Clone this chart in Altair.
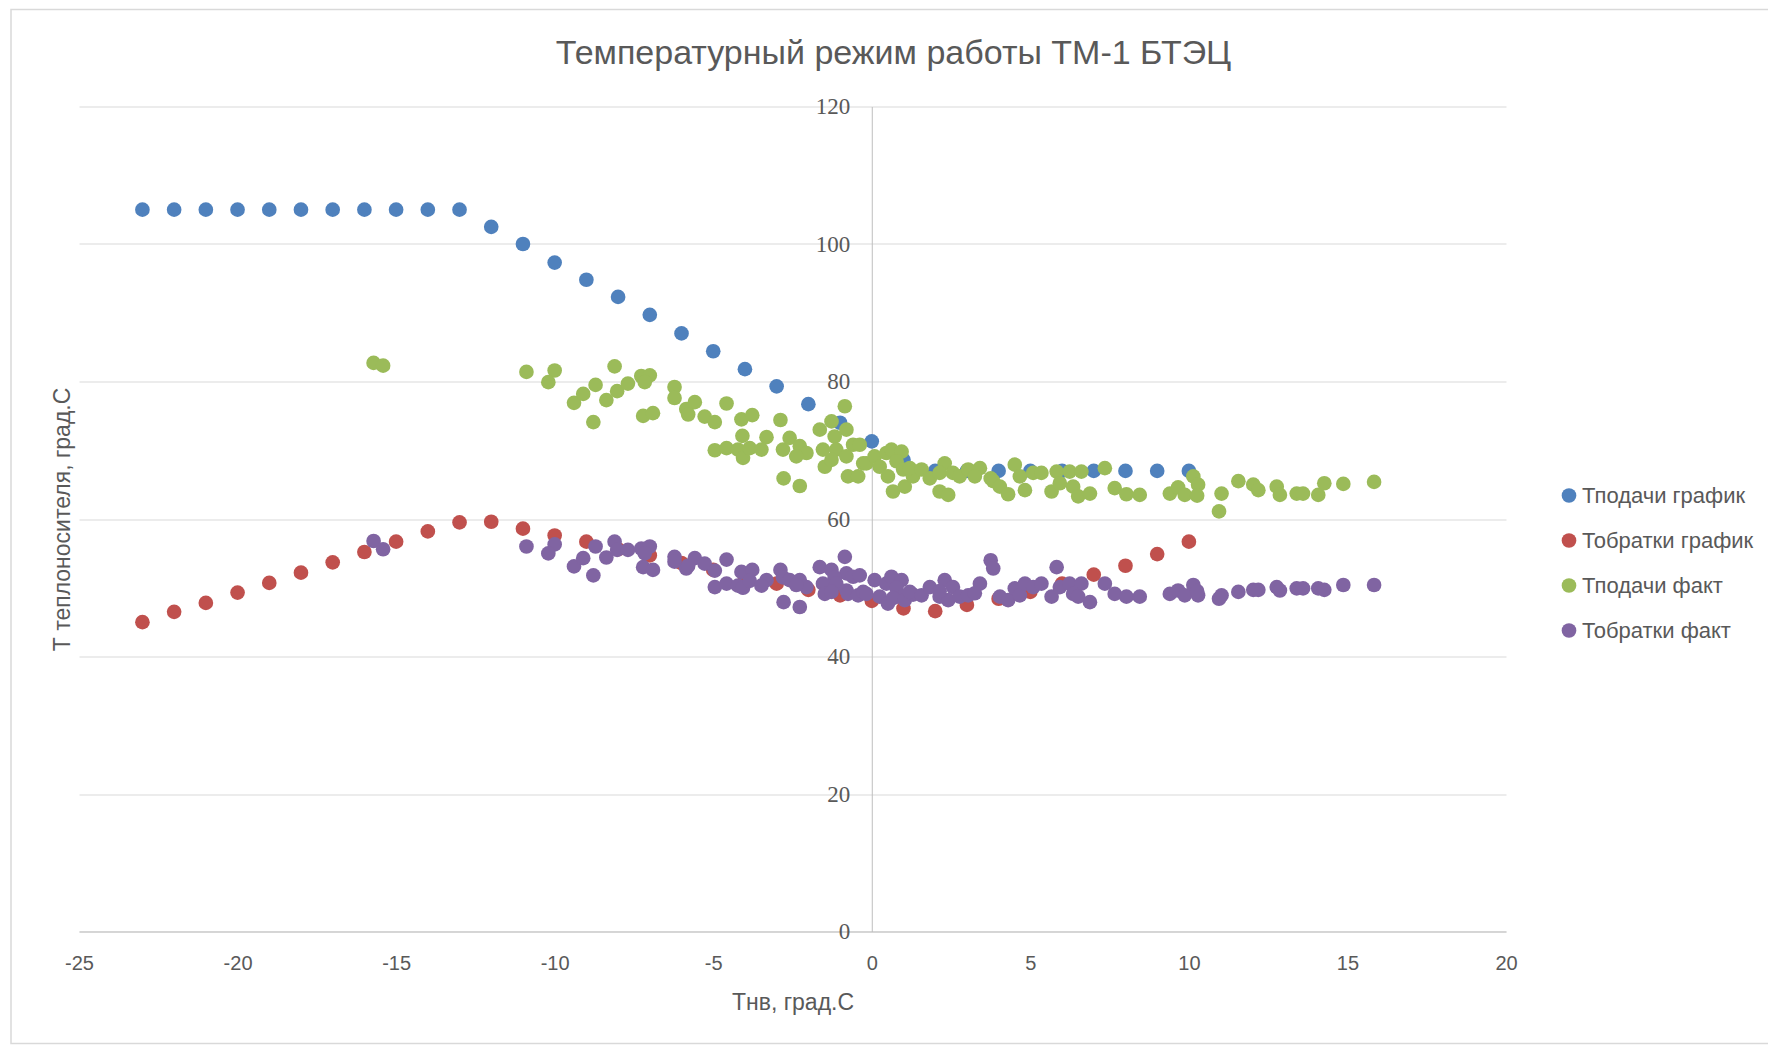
import altair as alt
import pandas as pd

# ---------------- data ----------------
series_names = ["Тподачи график", "Тобратки график", "Тподачи факт", "Тобратки факт"]
series_colors = ["#4F81BD", "#C0504D", "#9BBB59", "#8064A2"]

schedule_x = [-23, -22, -21, -20, -19, -18, -17, -16, -15, -14, -13, -12, -11, -10, -9, -8, -7,
              -6, -5, -4, -3, -2, -1, 0, 1, 2, 3, 4, 5, 6, 7, 8, 9, 10]
supply_schedule = [105, 105, 105, 105, 105, 105, 105, 105, 105, 105, 105, 102.5, 100.0, 97.3, 94.8,
                   92.3, 89.7, 87.0, 84.4, 81.8, 79.3, 76.7, 74.0, 71.3, 68.6, 67.0, 67.0, 67.0,
                   67.0, 67.0, 67.0, 67.0, 67.0, 67.0]
return_schedule = [45.0, 46.5, 47.8, 49.3, 50.7, 52.2, 53.7, 55.2, 56.7, 58.2, 59.5, 59.6, 58.6,
                   57.6, 56.7, 55.6, 54.7, 53.6, 52.6, 51.6, 50.6, 49.7, 48.9, 48.1, 47.0, 46.6,
                   47.5, 48.4, 49.4, 50.6, 51.9, 53.2, 54.9, 56.7]

fact_x = [-15.71, -15.41, -10.89, -10.0, -10.2, -9.39, -9.1, -8.71, -8.37, -8.78, -8.11, -8.03,
          -7.69, -7.27, -7.0, -7.16, -7.21, -6.9, -6.22, -6.22, -5.85, -5.58, -5.79, -5.27, -4.95,
          -4.58, -4.11, -3.77, -4.08, -3.32, -2.88, -4.95, -4.58, -4.22, -4.06, -3.85, -3.48, -2.8,
          -2.59, -2.27, -2.06, -2.38, -2.78, -2.27, -1.64, -1.27, -0.85, -0.8, -1.17, -1.54, -1.12,
          -0.59, -1.48, -0.8, -0.75, -0.43, -0.27, -1.27,
          -0.38, -0.17, 0.09, 0.25, 0.46, 0.62, 0.94, 0.78, 0.51, 0.99, 0.67, 1.04, 1.3, 1.2, 1.57,
          1.83, 2.14, 2.41, 2.3, 2.14, 2.56, 2.77, 3.04, 3.41, 3.25, 3.75, 3.83, 4.04, 4.3, 4.51,
          4.67, 4.83, 5.09, 5.35, 5.67, 5.83, 5.93, 6.24, 6.61, 6.35, 6.51, 6.88, 7.35, 7.66,
          8.03, 8.45, 9.4, 9.66, 9.87, 10.14, 10.29, 10.26, 11.03, 10.95, 11.56, 12.03, 12.19,
          12.77, 12.87, 13.4, 13.6, 14.08, 14.27, 14.87, 15.84]
supply_fact = [82.7, 82.3, 81.4, 81.6, 79.9, 76.9, 78.2, 79.5, 77.3, 74.1, 82.2, 78.6,
               79.7, 80.8, 80.9, 79.9, 75.0, 75.4, 79.2, 77.6, 76.0, 77.0, 75.2, 74.9, 74.1, 76.8,
               74.5, 75.1, 72.1, 71.9, 74.4, 70.0, 70.3, 70.1, 68.9, 70.3, 70.1, 70.1, 71.8, 70.6,
               69.6, 69.1, 65.9, 64.8, 73.0, 74.2, 76.4, 73.0, 72.0, 70.1, 70.1, 70.8, 67.6, 69.1,
               66.2, 66.2, 68.1, 68.6,
               70.8, 68.1, 69.1, 67.6, 69.6, 70.1, 69.8, 68.4, 66.2, 67.2, 64.0, 64.7, 66.2, 67.4,
               67.2, 65.9, 64.0, 63.5, 68.1, 66.7, 66.7, 66.2, 67.2, 67.4, 66.2, 65.9, 65.5, 64.7,
               63.6, 67.9, 66.2, 64.2, 66.7, 66.7, 64.0, 66.9, 65.2, 66.9, 66.9, 64.7, 63.3, 63.7,
               67.4, 64.5,
               63.6, 63.5, 63.7, 64.6, 63.5, 66.2, 65.0, 63.4, 63.7, 61.1, 65.5, 65.0, 64.2, 64.7,
               63.5, 63.7, 63.7, 63.5, 65.2, 65.1, 65.4]
return_fact = [56.8, 55.6, 56.0, 56.3, 55.0, 53.1, 54.3, 56.0, 54.4, 51.8, 56.7, 55.5,
               55.5, 55.7, 56.0, 55.0, 53.0, 52.6, 54.5, 53.8, 52.8, 54.3, 53.2, 53.5, 52.5, 54.1,
               52.3, 52.6, 50.1, 51.1, 52.6, 50.1, 50.6, 50.3, 50.0, 51.0, 50.3, 51.5, 51.1, 51.1,
               50.1, 50.4, 47.9, 47.2, 53.0, 52.6, 54.5, 52.1, 51.5, 50.6, 50.6, 51.6, 49.1, 49.6,
               49.1, 48.9, 49.4, 49.4,
               51.8, 49.1, 51.1, 48.7, 50.6, 51.6, 51.1, 50.0, 47.7, 48.7, 48.5, 48.2, 49.0, 49.4,
               48.9, 50.1, 48.7, 48.2, 51.1, 49.5, 50.1, 48.7, 48.9, 50.6, 49.2, 54.0, 52.8, 48.7,
               48.2, 49.9, 48.9, 50.6, 50.1, 50.6, 48.7, 53.0, 50.1, 50.6, 50.6, 49.1, 48.7, 47.9,
               50.6, 49.1,
               48.7, 48.7, 49.1, 49.6, 48.9, 50.4, 48.9, 49.5, 48.9, 48.4, 49.4, 49.7, 49.7, 50.1,
               49.6, 49.9, 49.9, 49.9, 49.7, 50.4, 50.4]

x_ticks = [-25, -20, -15, -10, -5, 0, 5, 10, 15, 20]
y_ticks = [0, 20, 40, 60, 80, 100, 120]

# ---------------- table ----------------
rows = []
for i, (xs, ys) in enumerate([(schedule_x, supply_schedule), (schedule_x, return_schedule),
                              (fact_x, supply_fact), (fact_x, return_fact)]):
    for x, y in zip(xs, ys):
        rows.append({"x": x, "t": y, "series": series_names[i], "ord": i})
df = pd.DataFrame(rows)

W, H = 1427, 825
X0 = W * 25 / 45  # pixel position of x = 0 inside the plot
GREY = "#595959"
DOT = 215

points = alt.Chart(df).mark_circle(size=DOT, opacity=1).encode(
    x=alt.X("x:Q",
            scale=alt.Scale(domain=[-25, 20], nice=False, zero=False),
            axis=alt.Axis(values=x_ticks, title="Тнв, град.С", grid=False, ticks=False,
                          labelExpr="datum.value + ''", labelFlush=False, labelOverlap=False,
                          domainColor="#bfbfbf", labelFont="Liberation Sans", labelFontSize=20,
                          labelColor=GREY, labelPadding=22, titleFont="Liberation Sans",
                          titleFontSize=23, titleFontWeight="normal", titleColor=GREY,
                          titleY=71, titleBaseline="middle")),
    y=alt.Y("t:Q",
            scale=alt.Scale(domain=[0, 120], nice=False),
            axis=alt.Axis(values=y_ticks, title="Т теплоносителя, град.С", offset=-X0,
                          grid=True, gridColor="#d9d9d9", ticks=False, domainColor="#bfbfbf",
                          labelFont="Liberation Serif", labelFontSize=23, labelColor=GREY,
                          labelPadding=22, titleFont="Liberation Sans", titleFontSize=23,
                          titleFontWeight="normal", titleColor=GREY, titleX=-X0 - 5)),
    color=alt.Color("series:N",
                    scale=alt.Scale(domain=series_names, range=series_colors),
                    legend=alt.Legend(title=None, orient="none", legendX=1479, legendY=378,
                                      symbolType="circle", symbolSize=DOT, labelFontSize=22,
                                      labelFont="Liberation Sans", labelColor=GREY,
                                      labelLimit=0, rowPadding=23, labelOffset=2, padding=0)),
    order=alt.Order("ord:Q"),
)

border = alt.Chart(pd.DataFrame({"a": [0]})).mark_rect(
    fillOpacity=0, stroke="#d9d9d9", strokeWidth=1.5
).encode(x=alt.value(-68), x2=alt.value(1720), y=alt.value(-97), y2=alt.value(937))

chart = alt.layer(border, points).properties(
    width=W, height=H,
    padding={"left": 71, "top": 98.5, "right": 262, "bottom": 114},
    autosize=alt.AutoSizeParams(type="none"),
    title=alt.TitleParams("Температурный режим работы ТМ-1 БТЭЦ", font="Liberation Sans",
                          fontSize=34, fontWeight="normal", color=GREY, anchor="middle",
                          frame="group", dx=101, offset=-62),
).configure_view(stroke=None)

chart.save("out.html", embed_options={"renderer": "svg", "actions": False})
